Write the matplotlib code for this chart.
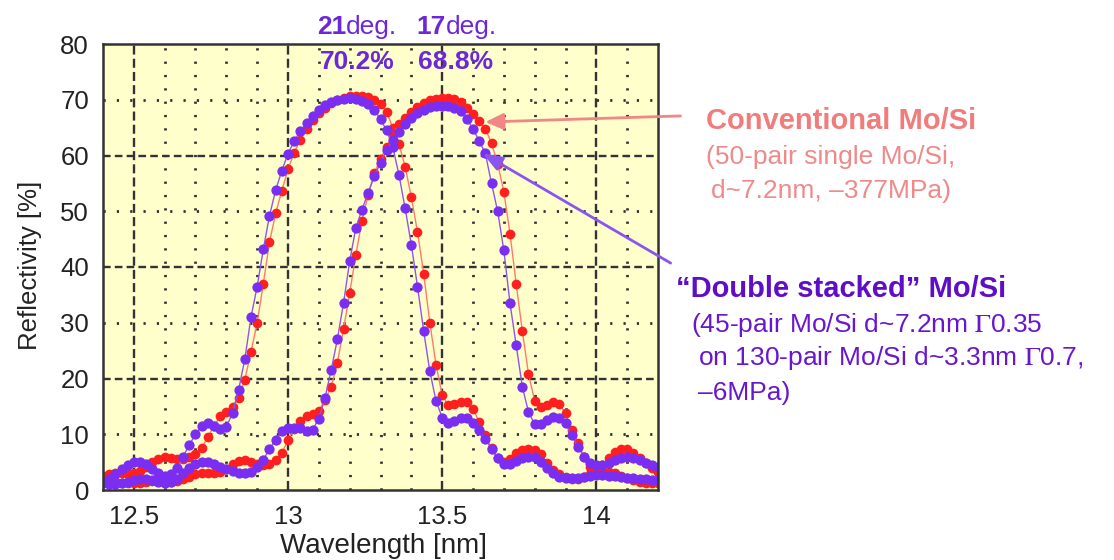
import matplotlib
matplotlib.use("Agg")
import matplotlib.pyplot as plt

plt.rcParams['font.family'] = ['Liberation Sans', 'DejaVu Sans']
plt.rcParams['mathtext.fontset'] = 'stix'
plt.rcParams['lines.scale_dashes'] = False

# ---------------- data ----------------
wavelength = [12.40, 12.42, 12.44, 12.46, 12.48, 12.50, 12.52, 12.54, 12.56, 12.58,
              12.60, 12.62, 12.64, 12.66, 12.68, 12.70, 12.72, 12.74, 12.76, 12.78,
              12.80, 12.82, 12.84, 12.86, 12.88, 12.90, 12.92, 12.94, 12.96, 12.98,
              13.00, 13.02, 13.04, 13.06, 13.08, 13.10, 13.12, 13.14, 13.16, 13.18,
              13.20, 13.22, 13.24, 13.26, 13.28, 13.30, 13.32, 13.34, 13.36, 13.38,
              13.40, 13.42, 13.44, 13.46, 13.48, 13.50, 13.52, 13.54, 13.56, 13.58,
              13.60, 13.62, 13.64, 13.66, 13.68, 13.70, 13.72, 13.74, 13.76, 13.78,
              13.80, 13.82, 13.84, 13.86, 13.88, 13.90, 13.92, 13.94, 13.96, 13.98,
              14.00, 14.02, 14.04, 14.06, 14.08, 14.10, 14.12, 14.14, 14.16, 14.18,
              14.20]

# Conventional Mo/Si, 21 deg (red)
conv_21deg = [2.5, 2.8, 3.0, 3.0, 2.9, 3.0, 3.4, 4.2, 5.0, 5.6,
              5.9, 5.8, 5.6, 5.6, 5.9, 6.4, 7.5, 9.5, 11.5, 13.2,
              14.0, 14.8, 16.5, 19.8, 24.8, 30.0, 37.0, 44.5, 49.6, 53.7,
              57.5, 60.5, 62.8, 64.8, 66.4, 67.6, 68.6, 69.4, 70.0, 70.4,
              70.6, 70.7, 70.7, 70.5, 70.0, 69.3, 67.8, 65.0, 62.0, 58.0,
              52.5, 46.3, 38.8, 30.0, 22.5, 17.0, 15.2, 15.4, 15.8, 15.8,
              14.6, 12.2, 9.9, 7.5, 5.7, 5.0, 5.6, 6.6, 7.1, 7.3,
              7.2, 6.4, 4.8, 3.6, 2.8, 2.3, 2.0, 2.0, 2.3, 2.8,
              3.2, 3.4, 3.3, 3.0, 2.6, 2.2, 1.8, 1.5, 1.3, 1.3,
              1.3]

# Conventional Mo/Si, 17 deg (red)
conv_17deg = [2.3, 2.0, 1.6, 1.3, 1.2, 1.2, 1.3, 1.5, 1.6, 1.6,
              1.5, 1.5, 1.7, 2.0, 2.4, 2.8, 3.0, 3.0, 3.0, 3.2,
              3.8, 4.6, 5.2, 5.4, 5.1, 4.7, 4.5, 4.6, 5.4, 6.6,
              9.0, 11.0, 12.3, 13.2, 13.7, 14.2, 16.2, 18.5, 22.8, 28.8,
              35.3, 42.2, 48.3, 53.0, 56.8, 59.4, 61.5, 63.8, 65.6, 66.8,
              67.8, 68.7, 69.4, 69.9, 70.1, 70.3, 70.3, 70.1, 69.6, 68.6,
              67.4, 66.2, 64.8, 62.2, 58.5, 53.5, 46.0, 37.0, 28.5, 20.8,
              16.0, 14.8, 15.3, 15.8, 15.4, 13.8, 10.8, 8.5, 6.0, 4.2,
              3.6, 4.4, 5.8, 6.9, 7.4, 7.3, 6.7, 5.8, 4.8, 3.9,
              3.2]

# Double stacked Mo/Si, 21 deg (purple)
dbl_21deg = [1.5, 2.0, 2.8, 3.7, 4.5, 5.0, 5.0, 4.6, 3.8, 3.0,
             2.6, 2.8, 4.0, 6.0, 8.1, 10.0, 11.5, 12.0, 11.4, 11.0,
             11.3, 13.8, 18.0, 23.5, 31.0, 36.5, 43.2, 49.2, 53.8, 57.3,
             60.3, 62.6, 64.4, 65.8, 67.0, 68.2, 69.0, 69.6, 70.0, 70.2,
             70.3, 70.2, 69.8, 69.2, 68.2, 66.5, 64.5, 61.5, 56.5, 50.5,
             44.0, 36.5, 28.5, 21.3, 16.0, 13.0, 12.0, 12.4, 12.9, 12.9,
             12.0, 10.8, 9.1, 7.4, 5.7, 4.7, 4.6, 5.2, 5.8, 5.9,
             5.9, 5.0, 3.9, 3.0, 2.4, 2.1, 2.1, 2.2, 2.4, 2.6,
             2.7, 2.7, 2.6, 2.5, 2.3, 2.2, 2.1, 2.0, 1.9, 1.8,
             1.8]

# Double stacked Mo/Si, 17 deg (purple)
dbl_17deg = [1.2, 1.0, 1.0, 1.2, 1.5, 1.8, 2.0, 2.0, 1.8, 1.5,
             1.3, 1.5, 2.0, 3.0, 4.0, 4.7, 5.0, 5.0, 4.7, 4.2,
             3.8, 3.4, 3.1, 3.0, 3.3, 4.2, 5.4, 7.4, 9.0, 10.5,
             11.1, 11.2, 11.1, 10.5, 10.8, 12.8, 16.5, 21.5, 27.0, 33.5,
             41.0, 47.0, 50.3, 53.3, 56.3, 58.7, 61.0, 62.8, 64.2, 65.6,
             66.8, 67.6, 68.2, 68.7, 68.9, 68.9, 68.8, 68.5, 67.9, 66.5,
             64.8, 62.6, 60.4, 55.0, 50.0, 43.0, 33.5, 26.0, 18.5, 14.0,
             11.8, 11.8, 12.5, 13.1, 12.9, 12.0, 9.8, 7.8, 6.0, 4.9,
             4.4, 4.4, 4.8, 5.3, 5.8, 5.9, 5.7, 5.3, 4.9, 4.5,
             4.1]

x_ticks = [12.5, 13, 13.5, 14]
x_tick_labels = ['12.5', '13', '13.5', '14']
y_ticks = [0, 10, 20, 30, 40, 50, 60, 70, 80]

# ---------------- figure ----------------
W, H = 1114, 560
fig = plt.figure(figsize=(W / 100, H / 100), dpi=100)


def px(x, y):
    return x / W, 1 - y / H


ax = fig.add_axes([103 / W, 1 - 490 / H, (658 - 103) / W, (490 - 44) / H])
ax.set_facecolor('#ffffcc')
ax.set_xlim(12.4, 14.2)
ax.set_ylim(0, 80)

grid_col = '#333333'
# major grid (dashed)
for xv in x_ticks:
    ax.axvline(xv, color=grid_col, lw=1.7, dashes=(6.5, 3.0), zorder=1)
for yv in [20, 40, 60]:
    ax.axhline(yv, color=grid_col, lw=1.7, dashes=(5.5, 3.0), zorder=1)
# minor grid (dotted)
for xv in [12.6, 12.7, 12.8, 12.9, 13.1, 13.2, 13.3, 13.4, 13.6, 13.7, 13.8, 13.9, 14.1]:
    ax.axvline(xv, color=grid_col, lw=2.0, dashes=(1.6, 8.0), zorder=1)
for yv in [10, 30, 50, 70]:
    ax.axhline(yv, color=grid_col, lw=2.0, dashes=(1.6, 8.0), zorder=1)

red = '#ff1f1f'
red_line = '#ff7a6a'
purple = '#7a2ef2'
purple_line = '#8d55f0'

ax.plot(wavelength, conv_21deg, '-o', color=red_line, lw=1.0, ms=7.0,
        mfc=red, mec='none', zorder=3)
ax.plot(wavelength, conv_17deg, '-o', color=red_line, lw=1.0, ms=7.0,
        mfc=red, mec='none', zorder=3)
ax.plot(wavelength, dbl_21deg, '-o', color=purple_line, lw=1.0, ms=7.4,
        mfc=purple, mec='none', zorder=4)
ax.plot(wavelength, dbl_17deg, '-o', color=purple_line, lw=1.0, ms=7.4,
        mfc=purple, mec='none', zorder=4)

ax.set_xticks(x_ticks)
ax.set_xticklabels(x_tick_labels)
ax.set_yticks(y_ticks)
ax.tick_params(length=0, labelsize=18.5, colors='#222222')
ax.tick_params(axis='x', pad=11)
ax.tick_params(axis='y', pad=10)
for sp in ax.spines.values():
    sp.set_color('#333333')
    sp.set_linewidth(1.8)
    sp.set_zorder(5)

fig.text(*px(30, 265), 'Reflectivity [%]', rotation=90, ha='center', va='center',
         fontsize=18.5, color='#222222')
fig.text(*px(383, 546), 'Wavelength [nm]', ha='center', va='center',
         fontsize=20, color='#222222')

# peak annotations
ann_col = '#6c28d8'
fig.text(*px(346, 34), '21', ha='right', va='baseline', fontsize=19,
         fontweight='bold', color=ann_col)
fig.text(*px(346, 34), 'deg.', ha='left', va='baseline', fontsize=19, color=ann_col)
fig.text(*px(357, 69), '70.2%', ha='center', va='baseline', fontsize=19,
         fontweight='bold', color=ann_col)
fig.text(*px(446, 34), '17', ha='right', va='baseline', fontsize=19,
         fontweight='bold', color=ann_col)
fig.text(*px(446, 34), 'deg.', ha='left', va='baseline', fontsize=19, color=ann_col)
fig.text(*px(456, 69), '68.8%', ha='center', va='baseline', fontsize=19,
         fontweight='bold', color=ann_col)

# right-hand legend texts
conv_col = '#f07c7c'
conv_sub = '#ee8a8a'
dbl_col = '#5e0ec6'
dbl_sub = '#6818cc'
fig.text(*px(706, 121), 'Conventional Mo/Si', ha='left', va='center', fontsize=21,
         fontweight='bold', color=conv_col)
fig.text(*px(706, 157), '(50-pair single Mo/Si,', ha='left', va='center',
         fontsize=19, color=conv_sub)
fig.text(*px(711, 191), 'd~7.2nm, \u2013377MPa)', ha='left', va='center',
         fontsize=19, color=conv_sub)

fig.text(*px(676, 289), '\u201cDouble stacked\u201d Mo/Si', ha='left', va='center',
         fontsize=21, fontweight='bold', color=dbl_col)
fig.text(*px(691, 325), r'(45-pair Mo/Si d~7.2nm $\Gamma$0.35', ha='left', va='center',
         fontsize=19, color=dbl_sub)
fig.text(*px(698, 358), r'on 130-pair Mo/Si d~3.3nm $\Gamma$0.7,', ha='left',
         va='center', fontsize=19, color=dbl_sub)
fig.text(*px(698, 393), '\u20136MPa)', ha='left', va='center', fontsize=19,
         color=dbl_sub)

# arrows
ax.annotate('', xy=(13.640, 66.0), xytext=(14.273, 67.1), xycoords='data',
            textcoords='data', annotation_clip=False,
            arrowprops=dict(arrowstyle='-|>,head_length=1.1,head_width=0.5',
                            color='#f28585', lw=2.0, shrinkA=0, shrinkB=0),
            zorder=6)
ax.annotate('', xy=(13.631, 60.4), xytext=(14.241, 40.7), xycoords='data',
            textcoords='data', annotation_clip=False,
            arrowprops=dict(arrowstyle='-|>,head_length=1.2,head_width=0.45',
                            color='#8a55ee', lw=2.0, shrinkA=0, shrinkB=0),
            zorder=6)

fig.savefig('out.png', dpi=100)
